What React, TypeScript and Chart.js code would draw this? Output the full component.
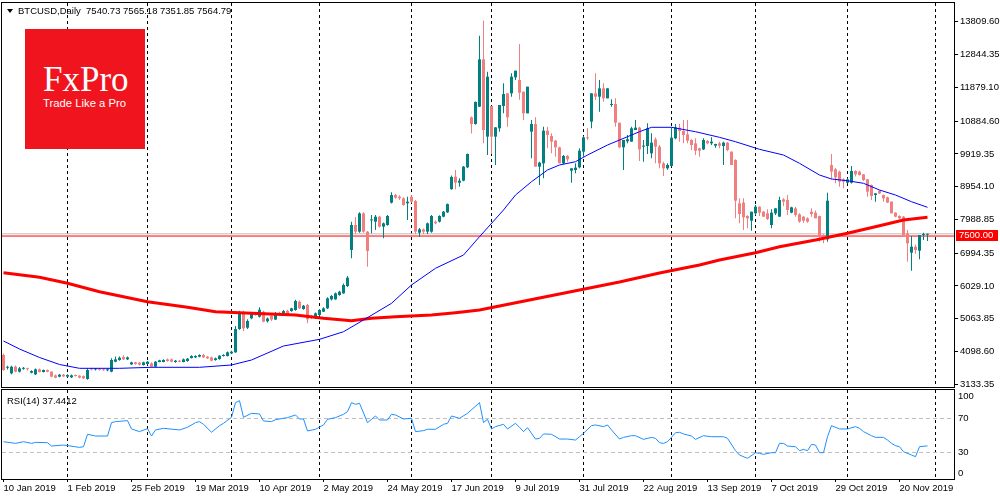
import React, { useEffect, useRef } from "react";
import { Chart, registerables } from "chart.js";
Chart.register(...registerables);

const FONT = "'Liberation Sans', Arial, sans-serif";
const TEAL = "#008080";
const CORAL = "#F08080";

// ---- candles (weekday bars, index 0 = 10 Jan 2019) ----
const openP = [
  3996,3620,3456,3652,3505,3590,3600,3475,3426,3574,
  3495,3554,3505,3397,3358,3417,3358,3338,3407,3387,
  3377,3289,3600,3570,3590,3565,3545,3505,3799,3849,
  3937,3868,3721,3780,3770,3701,3731,3750,3652,3790,
  3790,3868,3868,3790,3829,3790,3819,3907,3927,3947,
  3996,3947,3927,3849,3878,3966,3966,4045,4075,4760,
  5250,4800,5076,5223,5125,5272,4990,5150,5040,5220,
  5170,5300,5290,5321,5567,5351,5469,5140,5076,5174,
  5272,5371,5636,5636,5763,5812,6028,7088,7825,7628,
  8168,7628,7960,7923,8070,7776,7825,8482,8708,8659,
  8610,8463,8659,8532,7599,7697,7628,7628,7923,7923,
  8070,8198,8880,9248,9070,9130,9523,10996,10800,11310,
  12704,10427,11330,10427,10672,11330,11702,11702,12174,12095,
  11752,11113,10574,10800,9543,9641,10603,10447,10309,10112,
  9641,9857,9425,9445,9524,9985,10388,10869,11702,11604,
  11850,11555,11360,11390,10839,10112,10290,10279,10623,10692,
  10132,10152,9935,10348,10132,9641,9494,9563,10378,10692,
  10593,10495,10328,10230,10083,10053,10299,10230,10161,10230,
  10152,10250,9985,9739,8463,8483,8090,7952,8168,8364,
  8217,8168,7825,8168,8070,8580,8561,8188,8315,8139,
  8070,8021,8217,8188,8090,7530,7402,9592,9464,9396,
  9170,9071,9071,9415,9396,9317,9170,9003,8708,8836,
  8708,8640,8512,8188,8090,8070,7579,7010,7186,7068,
  7530,7540.73
];
const highP = [
  4040,3680,3680,3690,3640,3640,3620,3545,3600,3600,
  3570,3570,3520,3420,3440,3440,3430,3420,3420,3400,
  3390,3600,3620,3610,3610,3590,3590,3900,3950,3950,
  3990,3950,3800,3800,3790,3800,3820,3780,3820,3860,
  3870,3890,3890,3850,3850,3890,3910,3990,3990,4020,
  4030,3970,3950,3920,3990,4020,4100,4120,4850,5300,
  5300,5050,5260,5240,5400,5300,5100,5180,5260,5270,
  5320,5330,5390,5620,5600,5470,5500,5170,5250,5350,
  5400,5700,5760,5840,5890,6100,6320,7923,8060,8200,
  8200,7650,8120,8120,8090,7900,8120,8790,8740,8700,
  8640,8660,8700,8560,7740,7720,7900,8120,7960,8110,
  8240,8460,9280,9444,9200,9560,9930,11020,11460,13400,
  13850,12340,11330,10702,11359,11997,11702,12292,12370,13156,
  11752,11899,10918,10996,9690,10721,10721,10525,10329,10132,
  9887,9887,9494,9641,10083,10447,10672,11702,12292,12095,
  11997,11850,11530,11555,10839,10329,10476,10721,10918,10720,
  10329,10819,10524,10400,10180,9690,9640,10700,10800,10800,
  10920,10918,10350,10380,10100,10380,10330,10406,10220,10280,
  10280,10270,10000,9760,8610,8610,8110,8217,8414,8380,
  8240,8290,8290,8315,8659,8610,8708,8365,8365,8168,
  8090,8050,8315,8250,8100,7550,8777,9916,9500,9420,
  9200,9200,9560,9440,9420,9330,9180,9020,8760,8850,
  8720,8660,8520,8200,8110,8090,7677,7500,7250,7530,
  7600,7565.18
];
const lowP = [
  3530,3570,3430,3490,3480,3560,3540,3460,3410,3480,
  3480,3490,3340,3310,3340,3350,3340,3320,3360,3310,
  3290,3270,3540,3540,3540,3530,3520,3490,3780,3830,
  3850,3850,3700,3710,3690,3690,3710,3620,3640,3780,
  3780,3800,3780,3770,3780,3780,3800,3890,3910,3930,
  3910,3880,3810,3830,3860,3950,3950,4030,4060,4740,
  4700,4760,5050,5150,5100,4960,4950,5000,5030,5170,
  5150,5180,5270,5300,5350,5330,4930,5060,5060,5150,
  5260,5350,5600,5620,5740,5800,6000,6843,7550,7600,
  7600,6598,7580,7680,7750,7432,7800,8460,8600,8560,
  8390,7972,8480,7560,7480,7560,7560,7600,7850,7900,
  8050,8180,8860,8875,8950,9110,9500,10520,10780,11300,
  10230,9887,9916,9592,10574,11113,10721,11604,12095,11510,
  10918,11113,9789,9543,9003,9199,10083,9935,9838,9641,
  9622,9690,9071,9346,9494,9838,10329,10672,11506,11162,
  11457,11555,11310,10721,10083,9445,10230,10279,10623,9710,
  9690,9916,9788,9640,9494,9268,9450,9550,10350,10280,
  10230,10230,10034,9886,9837,10034,10200,10180,10100,10083,
  9592,10000,9592,8022,7874,7678,7727,7658,8120,8090,
  8060,7972,7727,8120,8070,8384,8119,8168,8070,7894,
  7894,7894,8070,8021,7334,7285,7334,9170,9052,8954,
  8905,9050,9050,9250,9280,9120,8660,8561,8512,8740,
  8512,8470,8168,8050,8000,7481,6745,6480,6980,6814,
  7383,7351.85
];
const closeP = [
  3554,3640,3652,3505,3603,3603,3575,3524,3574,3495,
  3554,3505,3358,3328,3417,3368,3407,3397,3377,3328,
  3308,3554,3570,3590,3560,3545,3575,3849,3868,3917,
  3868,3927,3780,3731,3711,3780,3799,3652,3799,3839,
  3849,3819,3799,3829,3799,3868,3888,3966,3966,3996,
  3927,3898,3829,3898,3976,3996,4075,4094,4761,5250,
  4780,5000,5223,5174,5330,4978,5070,5040,5223,5190,
  5290,5200,5371,5586,5371,5449,5047,5090,5223,5321,
  5371,5665,5734,5812,5861,6058,6274,7825,7628,8168,
  7628,7059,7980,8070,7776,7874,8090,8708,8630,8610,
  8414,8512,8512,7628,7697,7628,7874,8090,7874,8090,
  8217,8440,9240,9070,9130,9543,9916,10800,11450,12704,
  10623,12193,10427,10702,11359,11683,10996,12193,12370,11722,
  11113,11899,10800,9543,9661,10603,10476,10279,10112,9641,
  9857,9759,9494,9514,10014,10407,10378,11702,11604,11850,
  11555,11850,11390,10839,10112,10329,10350,10672,10692,10050,
  10162,10672,10250,10132,9641,9494,9592,10397,10701,10593,
  10475,10308,10181,10014,10014,10328,10230,10279,10210,10161,
  10250,10034,9592,8541,8149,8051,8021,8217,8364,8188,
  8070,8002,8188,8315,8561,8512,8267,8345,8119,7923,
  7952,7923,8149,8021,7481,7432,8541,9396,9228,9101,
  9101,9170,9415,9317,9297,9150,8806,8679,8757,8757,
  8610,8483,8168,8070,8021,7530,7285,7186,7088,7530,
  7550,7564.79
];

// ---- moving averages (bar index, price) ----
const maBlueIdx = [0,4,9,14,19,29,37,49,57,62,70,79,85,90,97,102,108,115,119,125,128,132,136,139,143,146,151,156,159,162,167,173,179,183,189,195,199,204,207,211,215,219,223,227,231];
const maBlueVal = [4409,4173,3923,3717,3604,3604,3634,3634,3702,3849,4261,4458,4682,5027,5519,6058,6550,6941,7480,8267,8708,9100,9445,9592,9689,9886,10181,10425,10573,10702,10702,10573,10407,10278,10054,9886,9642,9297,9180,9129,9053,8856,8708,8511,8346];
const maRedIdx = [0,9,16,24,36,46,53,62,73,80,87,92,98,107,113,119,124,134,144,154,164,174,179,188,194,203,211,219,225,231];
const maRedVal = [6417,6285,6108,5860,5566,5401,5271,5224,5174,5077,5006,5077,5124,5174,5242,5322,5439,5675,5910,6146,6411,6647,6794,7009,7186,7383,7580,7804,7972,8052];

// ---- RSI(14) ----
const rsiIdx = [0,3,5,7,8,11,12,15,19,20,21,23,26,27,28,31,32,34,36,37,38,40,44,46,48,49,50,52,54,55,57,58,59,60,62,64,65,67,68,71,73,74,75,76,78,80,81,83,85,86,87,88,89,91,93,94,96,97,98,100,102,103,105,106,108,110,111,112,114,116,119,120,121,122,123,125,126,128,129,130,131,133,134,135,137,139,141,143,144,145,147,148,150,151,152,154,155,157,158,160,162,163,164,165,166,168,169,170,172,173,175,177,180,181,183,184,186,188,189,190,192,193,194,195,196,198,199,200,201,202,203,204,205,206,207,209,211,213,214,215,217,218,220,221,222,223,224,225,227,228,229,231];
const rsiVal = [42.4,40.4,42.4,40.4,41.6,41.2,37.2,38.4,35.6,36.4,51.3,49.2,49.2,65.3,66.5,67.7,57.7,54.5,58.1,49.2,56.5,58.5,56.5,59.7,65.3,66.5,63.3,53.7,61.7,64.5,71.7,89.3,91.7,71.7,76.5,75.7,67.3,66.5,68.9,71.3,74.5,69.7,69.7,55.3,57.3,62.5,69.3,71.3,75.3,78.5,89.3,87.3,88.5,65.3,73.3,68.5,68.5,75.3,74.5,69.7,70.5,54.5,55.7,57.3,57.3,63.3,64.5,73.3,70.5,76.5,89.3,65.3,69.3,57.7,60.5,63.3,57.7,64.5,59.7,54.5,59.3,45.6,46.4,51.7,51.3,45.6,45.6,44.4,48.4,52.5,61.7,62.5,60.5,62.5,56.5,45.6,47.6,49.6,49.6,45.2,47.6,46.4,41.2,40.4,42.4,53.2,53.7,51.7,49.2,45.2,49.6,48.4,48.4,46.4,31.6,26.4,22.4,29.2,28.4,27.2,29.2,29.2,40.4,40.4,37.2,36.4,31.6,33.2,31.6,39.2,38.4,29.2,29.2,48.4,61.7,57.7,57.7,60.5,58.5,54.5,49.6,47.6,47.6,44.4,40.4,37.6,36.4,30.4,26.4,24.4,36.4,37.4];
const rsiLevels = [70, 30];
const rsiTickVals = [100, 70, 30, 0];

// ---- axes ----
const priceTicks = [3133.35,4098.60,5063.85,6029.10,6994.35,7988.85,8954.10,9919.35,10884.60,11879.10,12844.35,13809.60];
const dateLabels = ["10 Jan 2019","1 Feb 2019","25 Feb 2019","19 Mar 2019","10 Apr 2019","2 May 2019","24 May 2019","17 Jun 2019","9 Jul 2019","31 Jul 2019","22 Aug 2019","13 Sep 2019","7 Oct 2019","29 Oct 2019","20 Nov 2019"];
const dateLabelIdx = [0,16,32,48,64,80,96,112,128,144,160,176,192,208,224];
const monthStartIdx = [16,36,57,79,102,122,145,167,188,211,233];
const levelLine = 7500;
const bidLine = 7564.79;

const XMIN = -0.375;
const XMAX = 237.625;

function drawMonthLines(chart: any) {
  const { ctx, chartArea: a } = chart;
  const xs = chart.scales.x;
  ctx.save();
  ctx.strokeStyle = "#000";
  ctx.lineWidth = 1;
  ctx.setLineDash([3, 3]);
  monthStartIdx.forEach((m) => {
    const px = Math.floor(xs.getPixelForValue(m)) + 0.5;
    if (px < a.left || px > a.right) return;
    ctx.beginPath();
    ctx.moveTo(px, a.top);
    ctx.lineTo(px, a.bottom);
    ctx.stroke();
  });
  ctx.restore();
}

function drawFrame(chart: any) {
  const { ctx, chartArea: a } = chart;
  ctx.save();
  ctx.strokeStyle = "#000";
  ctx.lineWidth = 1;
  ctx.setLineDash([]);
  ctx.strokeRect(a.left - 0.5, a.top - 0.5, a.right - a.left + 1, a.bottom - a.top + 1);
  ctx.restore();
}

const mainDecor = {
  id: "mainDecor",
  beforeDatasetsDraw(chart: any) {
    drawMonthLines(chart);
  },
  afterDraw(chart: any) {
    drawFrame(chart);
    const { ctx, chartArea: a } = chart;
    const py = chart.scales.y.getPixelForValue(levelLine);
    ctx.save();
    ctx.fillStyle = "#FF0000";
    ctx.fillRect(a.right + 2, Math.round(py) - 6, 42, 11);
    ctx.fillStyle = "#FFFFFF";
    ctx.font = `9.5px ${FONT}`;
    ctx.textAlign = "left";
    ctx.textBaseline = "middle";
    ctx.fillText(levelLine.toFixed(2), a.right + 5, Math.round(py) - 0.5);
    ctx.restore();
  },
};

const rsiDecor = {
  id: "rsiDecor",
  beforeDatasetsDraw(chart: any) {
    drawMonthLines(chart);
    const { ctx, chartArea: a } = chart;
    const ys = chart.scales.y;
    ctx.save();
    ctx.strokeStyle = "#C0C0C0";
    ctx.lineWidth = 1;
    ctx.setLineDash([4, 3]);
    rsiLevels.forEach((v) => {
      const py = Math.floor(ys.getPixelForValue(v)) + 0.5;
      ctx.beginPath();
      ctx.moveTo(a.left, py);
      ctx.lineTo(a.right, py);
      ctx.stroke();
    });
    ctx.restore();
  },
  afterDraw(chart: any) {
    drawFrame(chart);
    const { ctx, chartArea: a } = chart;
    const ys = chart.scales.y;
    ctx.save();
    ctx.fillStyle = "#000";
    ctx.font = `9.5px ${FONT}`;
    ctx.textAlign = "left";
    ctx.textBaseline = "middle";
    rsiTickVals.forEach((v) => {
      let py = ys.getPixelForValue(v);
      if (v === 100) py += 3;
      if (v === 0) py -= 4;
      ctx.fillText(String(v), a.right + 4, py);
    });
    ctx.restore();
  },
};

export default function App() {
  const mainRef = useRef<HTMLCanvasElement | null>(null);
  const rsiRef = useRef<HTMLCanvasElement | null>(null);

  useEffect(() => {
    const idx = openP.map((_, i) => i);
    const colors = idx.map((i) => (closeP[i] >= openP[i] ? TEAL : CORAL));
    const tickFont = { family: FONT, size: 9.5 };

    const main = new Chart(mainRef.current as HTMLCanvasElement, {
      type: "bar",
      data: {
        datasets: [
          {
            type: "line",
            data: [{ x: XMIN, y: bidLine }, { x: XMAX, y: bidLine }],
            borderColor: "#C0C0C0",
            borderWidth: 1,
            pointRadius: 0,
            order: 5,
          } as any,
          {
            type: "line",
            data: [{ x: XMIN, y: levelLine }, { x: XMAX, y: levelLine }],
            borderColor: "#FF0000",
            borderWidth: 1,
            pointRadius: 0,
            order: 4,
          } as any,
          {
            type: "bar",
            data: idx.map((i) => ({ x: i, y: [lowP[i], highP[i]] })),
            backgroundColor: colors,
            barThickness: 1,
            grouped: false,
            inflateAmount: 0,
            borderWidth: 0,
            order: 3,
          } as any,
          {
            type: "bar",
            data: idx.map((i) => ({ x: i, y: [openP[i], closeP[i]] })),
            backgroundColor: colors,
            barThickness: 3,
            minBarLength: 1,
            grouped: false,
            inflateAmount: 0,
            borderWidth: 0,
            order: 2,
          } as any,
          {
            type: "line",
            data: maRedIdx.map((x, k) => ({ x, y: maRedVal[k] })),
            borderColor: "#FF0000",
            borderWidth: 3,
            pointRadius: 0,
            tension: 0,
            order: 1,
          } as any,
          {
            type: "line",
            data: maBlueIdx.map((x, k) => ({ x, y: maBlueVal[k] })),
            borderColor: "#0000FF",
            borderWidth: 1,
            pointRadius: 0,
            tension: 0,
            order: 0,
          } as any,
        ],
      },
      options: {
        responsive: false,
        animation: false,
        events: [],
        layout: { padding: { left: 2, top: 3, right: 0, bottom: 2 } },
        plugins: { legend: { display: false }, tooltip: { enabled: false } },
        scales: {
          x: {
            type: "linear",
            min: XMIN,
            max: XMAX,
            display: false,
            offset: false,
            grid: { offset: false },
          },
          y: {
            type: "linear",
            position: "right",
            min: 3054,
            max: 14363,
            afterBuildTicks: (s: any) => {
              s.ticks = priceTicks.map((v) => ({ value: v }));
            },
            afterFit: (s: any) => {
              s.width = 46;
              s.paddingTop = 0;
              s.paddingBottom = 0;
            },
            ticks: {
              autoSkip: false,
              padding: 2,
              color: "#000",
              font: tickFont,
              callback: (v: any) => Number(v).toFixed(2),
            },
            grid: {
              drawOnChartArea: false,
              drawTicks: true,
              tickLength: 4,
              tickColor: "#000",
              color: "#000",
            },
            border: { display: false },
          },
        },
      } as any,
      plugins: [mainDecor],
    });

    const rsi = new Chart(rsiRef.current as HTMLCanvasElement, {
      type: "line",
      data: {
        datasets: [
          {
            data: rsiIdx.map((x, k) => ({ x, y: rsiVal[k] })),
            borderColor: "#1E90FF",
            borderWidth: 1,
            pointRadius: 0,
            tension: 0,
          },
        ],
      },
      options: {
        responsive: false,
        animation: false,
        events: [],
        layout: { padding: { left: 2, top: 2, right: 0, bottom: 0 } },
        plugins: { legend: { display: false }, tooltip: { enabled: false } },
        scales: {
          x: {
            type: "linear",
            min: XMIN,
            max: XMAX,
            position: "bottom",
            offset: false,
            afterBuildTicks: (s: any) => {
              s.ticks = dateLabelIdx.map((v) => ({ value: v }));
            },
            afterFit: (s: any) => {
              s.height = 21;
              s.paddingLeft = 0;
              s.paddingRight = 0;
            },
            ticks: {
              autoSkip: false,
              maxRotation: 0,
              minRotation: 0,
              align: "start",
              padding: 1,
              color: "#000",
              font: tickFont,
              callback: (v: any) => {
                const k = dateLabelIdx.indexOf(Number(v));
                return k >= 0 ? dateLabels[k] : "";
              },
            },
            grid: {
              offset: false,
              drawOnChartArea: false,
              drawTicks: true,
              tickLength: 3,
              tickColor: "#000",
              color: "#000",
            },
            border: { display: false },
          },
          y: {
            type: "linear",
            position: "right",
            min: -2.4,
            max: 104.5,
            afterFit: (s: any) => {
              s.width = 46;
              s.paddingTop = 0;
              s.paddingBottom = 0;
            },
            ticks: { display: false },
            grid: { display: false },
            border: { display: false },
          },
        },
      } as any,
      plugins: [rsiDecor],
    });

    return () => {
      main.destroy();
      rsi.destroy();
    };
  }, []);

  const textStyle: React.CSSProperties = {
    position: "absolute",
    fontFamily: FONT,
    fontSize: "9.5px",
    lineHeight: "11px",
    color: "#000",
    whiteSpace: "pre",
  };

  return (
    <div
      style={{
        position: "absolute",
        left: 0,
        top: 0,
        width: 1000,
        height: 500,
        background: "#FFFFFF",
        overflow: "hidden",
      }}
    >
      <canvas ref={mainRef} width={1000} height={389} style={{ position: "absolute", left: 0, top: 0 }} />
      <canvas ref={rsiRef} width={1000} height={112} style={{ position: "absolute", left: 0, top: 388 }} />
      <div
        style={{
          position: "absolute",
          left: 7,
          top: 9,
          width: 0,
          height: 0,
          borderLeft: "3px solid transparent",
          borderRight: "3px solid transparent",
          borderTop: "4px solid #000",
        }}
      />
      <div style={{ ...textStyle, left: 18, top: 5 }}>{"BTCUSD,Daily  7540.73 7565.18 7351.85 7564.79"}</div>
      <div style={{ ...textStyle, left: 7, top: 394.5 }}>{"RSI(14) 37.4412"}</div>
      <div
        style={{
          position: "absolute",
          left: 25,
          top: 29,
          width: 120,
          height: 120,
          background: "#F0141E",
        }}
      >
        <div
          style={{
            position: "absolute",
            left: 18,
            top: 33,
            fontFamily: "'Liberation Serif', 'Times New Roman', serif",
            fontSize: "35px",
            lineHeight: "35px",
            color: "#FFFFFF",
            whiteSpace: "pre",
          }}
        >
          FxPro
        </div>
        <div
          style={{
            position: "absolute",
            left: 18,
            top: 69,
            fontFamily: FONT,
            fontSize: "11.3px",
            lineHeight: "11.3px",
            color: "#FFFFFF",
            whiteSpace: "pre",
          }}
        >
          Trade Like a Pro
        </div>
      </div>
    </div>
  );
}
